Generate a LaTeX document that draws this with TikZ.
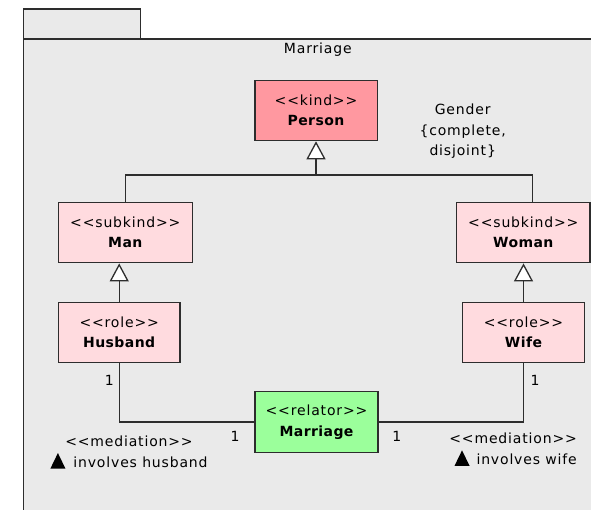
\documentclass[tikz,border=0pt]{standalone}
\usepackage{fontspec}
\setmainfont{DejaVu Sans}[LetterSpace=6, Ligatures=TeXOff]
\newfontface\namefont{DejaVu Sans Bold}[LetterSpace=3, Ligatures=TeXOff]
\usetikzlibrary{arrows.meta}

\definecolor{pkgfill}{RGB}{234,234,234}
\definecolor{kindfill}{RGB}{255,152,160}
\definecolor{subfill}{RGB}{255,219,223}
\definecolor{relfill}{RGB}{155,255,155}
\definecolor{edge}{RGB}{45,45,45}

% small filled triangle that marks the reading direction of an association
\newcommand\medtri{\tikz[baseline=1.5pt]\fill[black] (0pt,0pt) -- (7.5pt,15.5pt) -- (15pt,0pt) -- cycle;}

\tikzset{
  txt/.style={font=\fontsize{14}{20.5}\selectfont, inner sep=0pt, align=center},
  cls/.style={txt, draw=edge, line width=1.3pt, minimum height=60.5pt},
  conn/.style={draw=edge, line width=1.3pt},
  gen/.style={conn, -{Triangle[length=18pt, width=19pt, fill=white]}},
  pkg/.style={fill=pkgfill, draw=edge, line width=1.3pt},
}

\begin{document}
\begin{tikzpicture}[x=1pt, y=-1pt]
\useasboundingbox (0,0) rectangle (591,509);

% package frame with its tab
\begin{scope}
  \clip (0,0) rectangle (591,509);
  \filldraw[pkg] (23.3,9) rectangle (140.7,39);
  \filldraw[pkg] (23.3,39) rectangle (640,560);
\end{scope}
\node[txt] (title) at (317.8,50) {Marriage};

% classes
\node[cls, fill=kindfill, minimum width=122.3pt] (Person) at (316,110.4)
  {<<kind>>\\{\namefont Person}};
\node[cls, fill=subfill, minimum width=134pt] (Man) at (125.3,232.5)
  {<<subkind>>\\{\namefont Man}};
\node[cls, fill=subfill, minimum width=133.3pt] (Woman) at (523.3,232.5)
  {<<subkind>>\\{\namefont Woman}};
\node[cls, fill=subfill, minimum width=121.7pt] (Husband) at (119.2,332.5)
  {<<role>>\\{\namefont Husband}};
\node[cls, fill=subfill, minimum width=121.6pt] (Wife) at (523.5,332.5)
  {<<role>>\\{\namefont Wife}};
\node[cls, fill=relfill, minimum width=123pt] (Marriage) at (316.5,422)
  {<<relator>>\\{\namefont Marriage}};

% generalization set Gender
\node[txt] (gender) at (462.7,131.5) {Gender\\\{complete,\\disjoint\}};
\coordinate (gR) at (532.7,175);
\coordinate (gP) at (Person.south |- gR);
\draw[conn] (Man.north) |- (gR) -- (gR |- Woman.north);
\draw[gen] (gP) -- (Person.south);

% role specializations
\draw[gen] (Husband.north) -- (Husband.north |- Man.south);
\draw[gen] (Wife.north) -- (Wife.north |- Woman.south);

% mediations
\draw[conn] (Husband.south) |- (Marriage.west);
\draw[conn] (Wife.south) |- (Marriage.east);
\node[txt] (mulH) at (109.3,380) {1};
\node[txt] (mulML) at (235,436.5) {1};
\node[txt] (mulMR) at (396.7,436.7) {1};
\node[txt] (mulW) at (535,380) {1};
\node[txt] (medL) at (129,452.2)
  {<<mediation>>\\\medtri\hspace{8pt}involves husband};
\node[txt, align=right, anchor=east] (medR) at (577,449.5)
  {<<mediation>>\\\medtri\hspace{7pt}involves wife};
\end{tikzpicture}
\end{document}
